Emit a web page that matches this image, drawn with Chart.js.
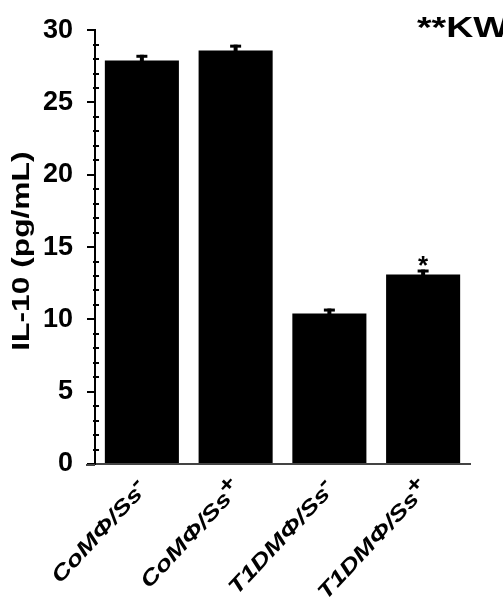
<!DOCTYPE html>
<html>
<head>
<meta charset="utf-8">
<script src="https://cdn.jsdelivr.net/npm/chart.js@4/dist/chart.umd.min.js"></script>
<style>
  html, body { margin: 0; padding: 0; background: #ffffff; }
  #wrap { width: 503px; height: 610px; position: relative; }
</style>
</head>
<body>
<div id="wrap"><canvas id="c" width="503" height="610"></canvas></div>
<script>
// IL-10 secretion by macrophage groups
const categories = ['CoMΦ/Ss-', 'CoMΦ/Ss+', 'T1DMΦ/Ss-', 'T1DMΦ/Ss+'];
const il10Means = [27.9, 28.6, 10.4, 13.1];
const il10Errors = [0.4, 0.4, 0.35, 0.35];
const significance = ['', '', '', '*'];
const yTickValues = [0, 5, 10, 15, 20, 25, 30];
const yTitle = 'IL-10 (pg/mL)';
const cornerNote = '**KW';

const SANS = '"Liberation Sans", Arial, Helvetica, sans-serif';

// short ticks at every unit between the labelled ones
const minorTicks = {
  id: 'minorTicks',
  afterDraw(chart) {
    const y = chart.scales.y, ctx = chart.ctx;
    ctx.save();
    ctx.strokeStyle = '#000';
    ctx.lineWidth = 2;
    for (let v = y.min; v <= y.max; v++) {
      if (v % 5 === 0) continue;
      const py = Math.round(y.getPixelForValue(v));
      ctx.beginPath();
      ctx.moveTo(y.right - 2, py);
      ctx.lineTo(y.right + 4, py);
      ctx.stroke();
    }
    // baseline continues under the y ticks
    const x = chart.scales.x;
    ctx.strokeStyle = '#444';
    ctx.beginPath();
    ctx.moveTo(86, x.top + 1);
    ctx.lineTo(x.left, x.top + 1);
    ctx.stroke();
    ctx.restore();
  }
};

// mean ± SE whiskers
const errorBars = {
  id: 'errorBars',
  afterDatasetsDraw(chart) {
    const y = chart.scales.y, ctx = chart.ctx;
    const meta = chart.getDatasetMeta(0);
    ctx.save();
    ctx.strokeStyle = '#000';
    meta.data.forEach((bar, i) => {
      const top = y.getPixelForValue(il10Means[i] + il10Errors[i]);
      const bot = y.getPixelForValue(il10Means[i] - il10Errors[i]);
      ctx.lineWidth = 4;
      ctx.beginPath();
      ctx.moveTo(bar.x, bot);
      ctx.lineTo(bar.x, top);
      ctx.stroke();
      ctx.lineWidth = 3;
      ctx.beginPath();
      ctx.moveTo(bar.x - 5.5, top + 1.5);
      ctx.lineTo(bar.x + 5.5, top + 1.5);
      ctx.stroke();
    });
    ctx.restore();
  }
};

// texts: significance marks, axis title, category labels, corner note
const annotations = {
  id: 'annotations',
  afterDraw(chart) {
    const y = chart.scales.y, x = chart.scales.x, ctx = chart.ctx;
    const meta = chart.getDatasetMeta(0);
    ctx.save();
    ctx.fillStyle = '#000';

    // significance asterisks above the whiskers
    ctx.font = 'bold 26px ' + SANS;
    ctx.textAlign = 'center';
    ctx.textBaseline = 'alphabetic';
    meta.data.forEach((bar, i) => {
      if (!significance[i]) return;
      const top = y.getPixelForValue(il10Means[i] + il10Errors[i]);
      ctx.fillText(significance[i], bar.x, top + 4);
    });

    // y-axis title
    ctx.save();
    ctx.translate(23, (y.top + y.bottom) / 2 + 4);
    ctx.rotate(-Math.PI / 2);
    ctx.scale(1.38, 1);
    ctx.font = 'bold 23px ' + SANS;
    ctx.textAlign = 'center';
    ctx.textBaseline = 'middle';
    ctx.fillText(yTitle, 0, 0);
    ctx.restore();

    // rotated category labels with raised +/- sign
    const angle = 47 * Math.PI / 180;
    categories.forEach((label, i) => {
      const main = label.slice(0, -1);
      const sign = label.slice(-1);
      const px = x.getPixelForValue(i) + 7;
      const py = x.top + 25;
      ctx.save();
      ctx.translate(px, py);
      ctx.rotate(-angle);
      ctx.scale(1.3, 1);
      ctx.textBaseline = 'alphabetic';
      ctx.textAlign = 'right';
      ctx.font = 'italic bold 21px ' + SANS;
      const sw = ctx.measureText(sign).width;
      ctx.fillText(sign, 0, -8);
      ctx.fillText(main, -sw + 1, 0);
      ctx.restore();
    });

    // corner note
    ctx.save();
    ctx.translate(417, 37);
    ctx.scale(1.25, 1);
    ctx.font = 'bold 30px ' + SANS;
    ctx.textAlign = 'left';
    ctx.textBaseline = 'alphabetic';
    ctx.fillText(cornerNote, 0, 0);
    ctx.restore();
    ctx.restore();
  }
};

new Chart(document.getElementById('c'), {
  type: 'bar',
  data: {
    labels: categories,
    datasets: [{
      data: il10Means,
      backgroundColor: '#000',
      borderWidth: 0,
      barPercentage: 0.79,
      categoryPercentage: 1.0
    }]
  },
  options: {
    responsive: false,
    animation: false,
    layout: { padding: { left: 0, right: 33, top: 27, bottom: 0 } },
    plugins: { legend: { display: false }, tooltip: { enabled: false } },
    scales: {
      x: {
        grid: { display: false },
        border: { display: true, color: '#444', width: 2 },
        ticks: { display: false },
        afterFit(scale) { scale.height = 146; }
      },
      y: {
        min: 0,
        max: 30,
        afterBuildTicks(scale) { scale.ticks = yTickValues.map(v => ({ value: v })); },
        grid: { drawOnChartArea: false, drawTicks: true, tickLength: 8, color: '#000', lineWidth: 2 },
        border: { display: true, color: '#000', width: 2 },
        ticks: { color: '#000', padding: 14, font: { family: SANS, weight: 'bold', size: 27 } },
        afterFit(scale) { scale.width = 95; }
      }
    }
  },
  plugins: [minorTicks, errorBars, annotations]
});
</script>
</body>
</html>
